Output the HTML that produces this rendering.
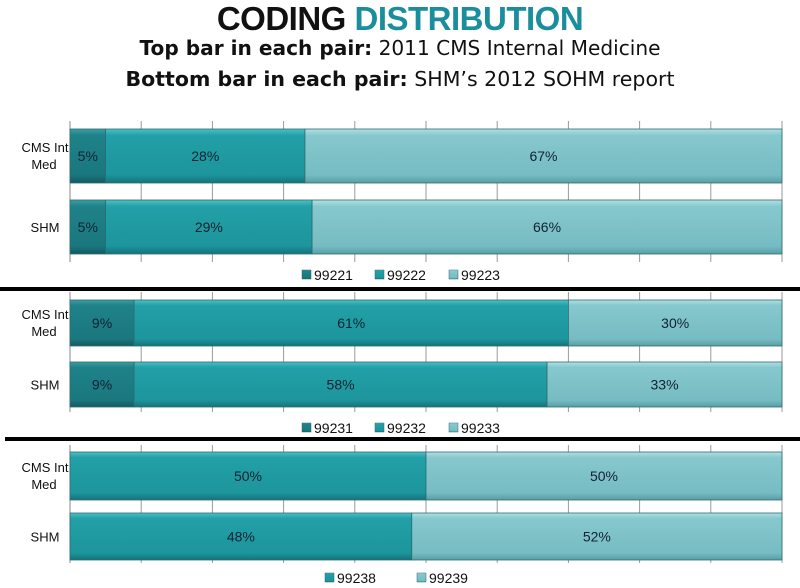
<!DOCTYPE html>
<html><head><meta charset="utf-8"><style>
body{margin:0;background:#fff;width:800px;height:588px;overflow:hidden}
svg{display:block}
</style></head><body>
<svg id="s" width="800" height="588" xmlns="http://www.w3.org/2000/svg">
<defs>
<linearGradient id="g0" x1="0" y1="0" x2="0" y2="1"><stop offset="0" stop-color="#3a9ea4"/><stop offset="0.12" stop-color="#1f8289"/><stop offset="0.85" stop-color="#1a777e"/><stop offset="1" stop-color="#135a60"/></linearGradient>
<linearGradient id="g1" x1="0" y1="0" x2="0" y2="1"><stop offset="0" stop-color="#4cc0c6"/><stop offset="0.12" stop-color="#22a0a7"/><stop offset="0.85" stop-color="#1d959c"/><stop offset="1" stop-color="#15727a"/></linearGradient>
<linearGradient id="g2" x1="0" y1="0" x2="0" y2="1"><stop offset="0" stop-color="#b2e0e3"/><stop offset="0.12" stop-color="#86c8cd"/><stop offset="0.85" stop-color="#76bcc2"/><stop offset="1" stop-color="#5a9ea4"/></linearGradient>
</defs>
<text x="400" y="30" text-anchor="middle" font-family="Liberation Sans, sans-serif" font-weight="900" font-size="33" letter-spacing="-0.5"><tspan fill="#111">CODING </tspan><tspan fill="#1a8e9c">DISTRIBUTION</tspan></text>
<text x="400" y="55" text-anchor="middle" textLength="521" lengthAdjust="spacingAndGlyphs" font-family="DejaVu Sans, sans-serif" font-size="20" fill="#111"><tspan font-weight="bold">Top bar in each pair:</tspan> 2011 CMS Internal Medicine</text>
<text x="400" y="86" text-anchor="middle" textLength="549" lengthAdjust="spacingAndGlyphs" font-family="DejaVu Sans, sans-serif" font-size="20" fill="#111"><tspan font-weight="bold">Bottom bar in each pair:</tspan> SHM’s 2012 SOHM report</text>
<rect x="0" y="287" width="800" height="4" fill="#000"/>
<rect x="5" y="437" width="795" height="4" fill="#000"/>
<g id="c"></g>
</svg>
<script>
var c=document.getElementById('c'),h='';
var X0=70,W=712;
var panels=[
 {top:121,bot:262,bars:[[129,183,[5,28,67]],[200,254,[5,29,66]]],leg:['99221','99222','99223'],ly:280,lx:[302,375,449],g:['g0','g1','g2']},
 {top:292,bot:412,bars:[[300,346,[9,61,30]],[362,407,[9,58,33]]],leg:['99231','99232','99233'],ly:433,lx:[302,375,449],g:['g0','g1','g2']},
 {top:445,bot:563,bars:[[452,500,[50,50]],[513,560,[48,52]]],leg:['99238','99239'],ly:583,lx:[325,417],g:['g1','g2']}
];
var F='font-family="Liberation Sans, DejaVu Sans, sans-serif"';
panels.forEach(function(p){
 for(var k=0;k<=10;k++){var x=X0+k*W/10;h+='<line x1="'+x+'" y1="'+p.top+'" x2="'+x+'" y2="'+p.bot+'" stroke="#9a9a9a" stroke-width="1"/>';}
 h+='<line x1="'+X0+'" y1="'+p.top+'" x2="'+X0+'" y2="'+p.bot+'" stroke="#888"/>';
 p.bars.forEach(function(b,i){
  var x=X0;
  b[2].forEach(function(v,j){var w=W*v/100;
   h+='<rect x="'+x+'" y="'+b[0]+'" width="'+w+'" height="'+(b[1]-b[0])+'" fill="url(#'+p.g[j]+')" stroke="#2b6e73" stroke-width="0.8"/>';
   h+='<text x="'+(x+w/2)+'" y="'+((b[0]+b[1])/2+5)+'" text-anchor="middle" '+F+' font-size="14" fill="#123">'+v+'%</text>';
   x+=w;});
  var cy=(b[0]+b[1])/2;
  if(i==0){h+='<text '+F+' font-size="13" fill="#111" text-anchor="middle"><tspan x="45" y="'+(cy-4)+'">CMS Int</tspan><tspan x="44" y="'+(cy+13)+'">Med</tspan></text>';}
  else h+='<text x="45" y="'+(cy+5)+'" text-anchor="middle" '+F+' font-size="13" fill="#111">SHM</text>';
 });
 p.leg.forEach(function(t,j){
  h+='<rect x="'+p.lx[j]+'" y="'+(p.ly-10)+'" width="9" height="9" fill="url(#'+p.g[j]+')" stroke="#2b6e73" stroke-width="0.5"/>';
  h+='<text x="'+(p.lx[j]+12)+'" y="'+p.ly+'" '+F+' font-size="14" fill="#111">'+t+'</text>';
 });
});
c.innerHTML=h;
</script>
</body></html>
